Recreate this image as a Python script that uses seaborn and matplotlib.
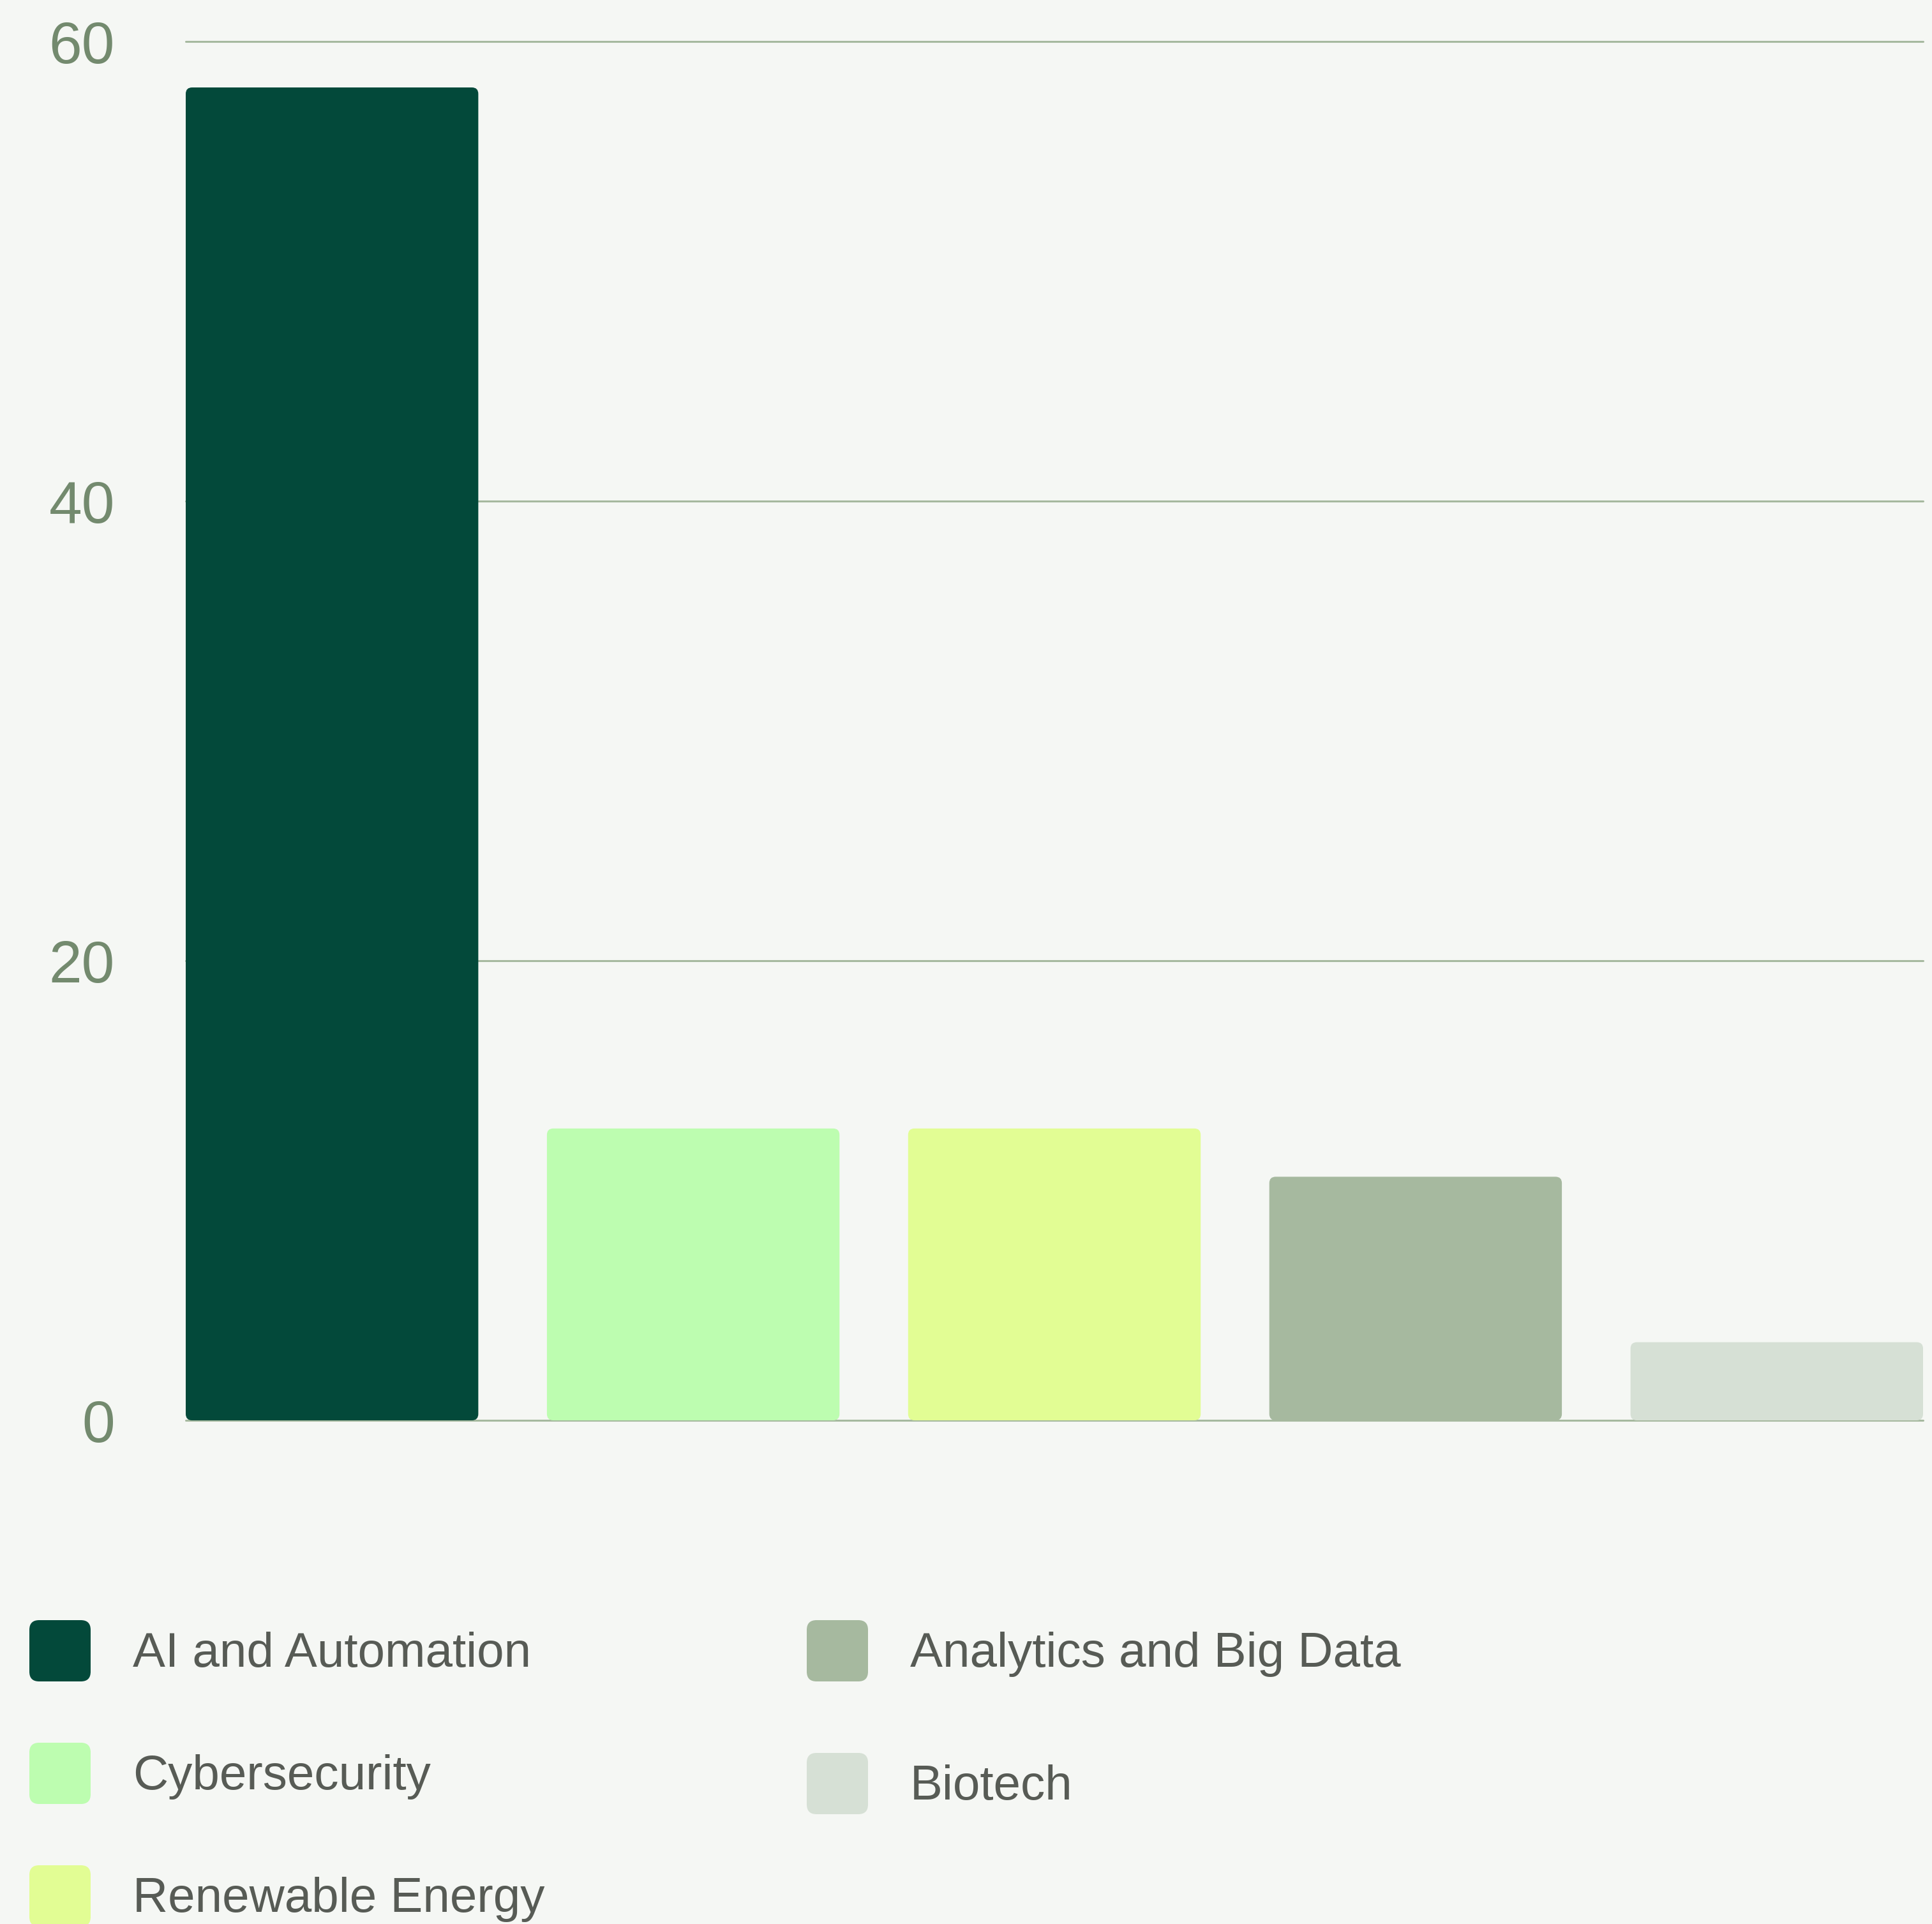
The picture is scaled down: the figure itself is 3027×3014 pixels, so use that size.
import matplotlib
matplotlib.use("Agg")
import matplotlib.pyplot as plt
import seaborn as sns
import pandas as pd
from matplotlib.patches import FancyBboxPatch, Patch
from matplotlib.legend_handler import HandlerPatch

# Share of activity by technology area
categories = ["AI and Automation", "Cybersecurity", "Renewable Energy",
              "Analytics and Big Data", "Biotech"]
values = [58.0, 12.7, 12.7, 10.6, 3.4]
colors = ["#03493a", "#bdfdb0", "#e2fd94", "#a6b99f", "#d6e0d5"]
yticks = [0, 20, 40, 60]

BG = "#f5f7f4"
GRID = "#a6b99f"
TICK = "#738a6e"
TEXT = "#575b55"

sns.set_theme(style="white")
plt.rcParams["font.family"] = ["Liberation Sans", "DejaVu Sans"]

W, H, DPI = 3027, 3014, 100
fig = plt.figure(figsize=(W / DPI, H / DPI), dpi=DPI, facecolor=BG)
ax = fig.add_axes([291 / W, 1 - 2225 / H, 2722 / W, 2160 / H])
ax.set_facecolor(BG)

df = pd.DataFrame({"category": categories, "value": values})
sns.barplot(data=df, x="category", y="value", hue="category",
            palette=colors, width=0.81, saturation=1, legend=False,
            linewidth=0, ax=ax)

ax.set_xlim(-0.405, 4.405)
ax.set_ylim(0, 60)
ax.set_yticks(yticks)
ax.set_yticklabels([str(t) for t in yticks])
ax.set_xticks([])
ax.set_xlabel("")
ax.set_ylabel("")
for s in ax.spines.values():
    s.set_visible(False)
ax.tick_params(axis="y", length=0, pad=80, labelsize=67, labelcolor=TICK)
ax.yaxis.grid(True, color=GRID, linewidth=2.2, clip_on=False)
ax.set_axisbelow(True)

# Swap the plain bars for rounded ones (about 10 px corner radius)
px_x = ax.bbox.width / (ax.get_xlim()[1] - ax.get_xlim()[0])
px_y = ax.bbox.height / (ax.get_ylim()[1] - ax.get_ylim()[0])
rx = 10 / px_x
ry = 10 / px_y
for p in list(ax.patches):
    x0, y0, w, h = p.get_x(), p.get_y(), p.get_width(), p.get_height()
    fc = p.get_facecolor()
    p.remove()
    ax.add_patch(FancyBboxPatch((x0, y0), w, h,
                                boxstyle=f"round,pad=0,rounding_size={rx}",
                                mutation_aspect=ry / rx, facecolor=fc,
                                edgecolor="none", zorder=2))


class RoundHandler(HandlerPatch):
    def create_artists(self, legend, orig_handle, xdescent, ydescent,
                       width, height, fontsize, trans):
        return [FancyBboxPatch((-xdescent, -ydescent), width, height,
                               boxstyle="round,pad=0,rounding_size=11",
                               facecolor=orig_handle.get_facecolor(),
                               edgecolor="none", transform=trans)]


handles = [Patch(facecolor=c, label=l) for c, l in zip(colors, categories)]
fs = 55
em = fs * DPI / 72
swatch = 96 / em                      # swatch side in font-size units
hh = (swatch - 0.245) / 0.65          # legend subtracts a descent from the box
common = dict(fontsize=fs, handlelength=swatch, handleheight=hh,
              handletextpad=0.86, borderpad=0, borderaxespad=0,
              frameon=False, labelcolor=TEXT, loc="upper left",
              bbox_transform=fig.transFigure,
              handler_map={Patch: RoundHandler()})
fig.legend(handles=handles[:3], labelspacing=96 / em,
           bbox_to_anchor=(46 / W, 1 - 2538 / H), **common)
fig.legend(handles=handles[3:], labelspacing=112 / em,
           bbox_to_anchor=(1264 / W, 1 - 2538 / H), **common)

fig.savefig("out.png", dpi=DPI, facecolor=BG)
